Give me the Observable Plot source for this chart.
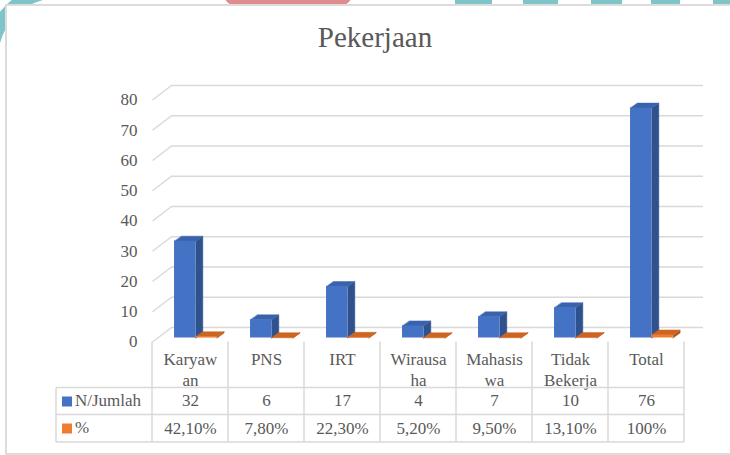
<!DOCTYPE html>
<html><head><meta charset="utf-8">
<script src="https://cdn.jsdelivr.net/npm/d3@7"></script>
<script src="https://cdn.jsdelivr.net/npm/@observablehq/plot@0.6"></script>
<style>
html,body{margin:0;padding:0;background:#fff;}
#stage{position:relative;width:730px;height:455px;overflow:hidden;font-family:"Liberation Serif","Times New Roman",serif;color:#595959;}
#stage svg{position:absolute;left:0;top:0;}
</style></head><body><div id="stage"></div>
<script>
// ---- data ----
const title = "Pekerjaan";
const categories = ["Karyawan","PNS","IRT","Wirausaha","Mahasiswa","Tidak Bekerja","Total"];
const nJumlah = [32,6,17,4,7,10,76];
const persen = [42.1,7.8,22.3,5.2,9.5,13.1,100];
const persenLabels = ["42,10%","7,80%","22,30%","5,20%","9,50%","13,10%","100%"];
const seriesNames = ["N/Jumlah","%"];
const yTicks = [0,10,20,30,40,50,60,70,80];

// ---- layout / style ----
const W = 730, H = 455;
const mL = 152, mR = 46, mT = 99.5, mB = H - 341.5;
const colW = (W - mL - mR) / categories.length;
const pxPerUnit = (H - mB - mT) / 80;
const wallDX = 19 / colW, wallDY = 14.5 / pxPerUnit;
const barDX = 7 / colW, barDY = 5 / pxPerUnit;
const barOff = 0.29, barW = 0.28;
const blue = {front:"#4472c4", side:"#2f528f", top:"#3a63ad"};
const orange = {front:"#ed7d31", side:"#b3561a", top:"#cd6520"};
const grid = "#d9d9d9";
const textColor = "#595959";
const font = '"Liberation Serif","Times New Roman",serif';

const rows = categories.map((c,i)=>({c, i, n:nJumlah[i], p:persen[i]/100}));

// wrap labels to the column width like the spreadsheet table does
const ctx = document.createElement("canvas").getContext("2d");
ctx.font = "17px " + font;
function wrap(s, maxW = 60) {
  const lines = [];
  let cur = "";
  for (const word of s.split(" ")) {
    const cand = cur ? cur + " " + word : word;
    if (ctx.measureText(cand).width <= maxW) { cur = cand; continue; }
    if (cur) { lines.push(cur); cur = ""; }
    let w = word;
    while (ctx.measureText(w).width > maxW) {
      let k = w.length;
      while (k > 1 && ctx.measureText(w.slice(0,k)).width > maxW) k--;
      lines.push(w.slice(0,k)); w = w.slice(k);
    }
    cur = w;
  }
  if (cur) lines.push(cur);
  return lines.join("\n");
}

function faces(key, offset) {
  const side = [], top = [];
  for (const r of rows) {
    const v = r[key], x1 = r.i + offset, x2 = x1 + barW;
    [[x2,0],[x2+barDX,barDY],[x2+barDX,v+barDY],[x2,v]].forEach(([x,y])=>side.push({x,y,z:key+r.i}));
    [[x1,v],[x2,v],[x2+barDX,v+barDY],[x1+barDX,v+barDY]].forEach(([x,y])=>top.push({x,y,z:key+r.i}));
  }
  return {side, top};
}
const bF = faces("n", barOff), oF = faces("p", barOff + barW);

function barMarks(key, offset, f, col) {
  return [
    Plot.line(f.side, {x:"x", y:"y", z:"z", fill:col.side, stroke:col.side, strokeWidth:0.5, curve:"linear-closed", dy:-4}),
    Plot.line(f.top, {x:"x", y:"y", z:"z", fill:col.top, stroke:col.top, strokeWidth:0.5, curve:"linear-closed", dy:-4}),
    Plot.rect(rows, {x1:r=>r.i+offset, x2:r=>r.i+offset+barW, y1:0, y2:r=>r[key], fill:col.front, dy:-4})
  ];
}

const stage = document.getElementById("stage");

// background decoration + chart box
const deco = d3.create("svg").attr("width", W).attr("height", H);
deco.append("path").attr("d","M 46 -8 Q 2 2 -8 46").attr("fill","none").attr("stroke","#7ec4c9").attr("stroke-width",14);
deco.append("rect").attr("x",223).attr("y",-30).attr("width",130).attr("height",36).attr("rx",14).attr("fill","#e08b8f");
[[455,492],[523,558],[591,622],[651,680],[713,736]].forEach(([a,b])=>
  deco.append("rect").attr("x",a).attr("y",-4).attr("width",b-a).attr("height",10).attr("rx",3).attr("fill","#7ec4c9"));
deco.append("rect").attr("x",6).attr("y",5).attr("width",740).attr("height",449)
  .attr("fill","#fff").attr("stroke","#dcdcdc").attr("stroke-width",2);
stage.appendChild(deco.node());

const plot = Plot.plot({
  width: W, height: H,
  marginLeft: mL, marginRight: mR, marginTop: mT, marginBottom: mB,
  style: {background:"transparent", fontFamily: font, fontSize:"17px", color:textColor, overflow:"visible"},
  x: {domain:[0, categories.length], axis:null},
  y: {domain:[0,80], ticks:yTicks, tickSize:0, tickPadding:15, label:null, tickFormat:d=>String(d)},
  marks: [
    Plot.ruleY(yTicks, {y:d=>d+wallDY, x1:wallDX, x2:categories.length+wallDX, stroke:grid, strokeWidth:1.5}),
    Plot.link(yTicks, {x1:0, y1:d=>d, x2:wallDX, y2:d=>d+wallDY, stroke:grid, strokeWidth:1.5}),
    ...barMarks("n", barOff, bF, blue),
    ...barMarks("p", barOff + barW, oF, orange),
    Plot.text(rows, {x:r=>r.i+0.5, y:0, text:r=>wrap(r.c), lineAnchor:"top", lineHeight:21/17, fontSize:17, dy:8.5, fill:textColor}),
    Plot.text(rows, {x:r=>r.i+0.5, y:0, text:r=>String(r.n), lineAnchor:"top", fontSize:17, dy:51.5, fill:textColor}),
    Plot.text(rows, {x:r=>r.i+0.5, y:0, text:r=>persenLabels[r.i], lineAnchor:"top", fontSize:17, dy:79.5, fill:textColor})
  ]
});
stage.appendChild(plot);

// data table grid, legend keys and title
const xs = plot.scale("x").apply;
const y0 = plot.scale("y").apply(0);
const ov = d3.create("svg").attr("width", W).attr("height", H).style("font-family", font);
const tTop = y0, r1 = y0 + 46, r2 = y0 + 73, tBot = y0 + 100.5, tLeft = 56;
const g = ov.append("g").attr("stroke", grid).attr("stroke-width", 1.5);
d3.range(categories.length + 1).forEach(k=>
  g.append("line").attr("x1",xs(k)).attr("x2",xs(k)).attr("y1",tTop).attr("y2",tBot));
g.append("line").attr("x1",tLeft).attr("x2",tLeft).attr("y1",r1).attr("y2",tBot);
[r1, r2, tBot].forEach(y=>g.append("line").attr("x1",tLeft).attr("x2",xs(categories.length)).attr("y1",y).attr("y2",y));
[[blue.front, r1], [orange.front, r2]].forEach(([c, ry], j)=>{
  ov.append("rect").attr("x",62).attr("y",ry+9).attr("width",10).attr("height",10).attr("fill",c);
  ov.append("text").attr("x",75).attr("y",ry+18.5).attr("font-size",17).attr("fill",textColor).text(seriesNames[j]);
});
ov.append("text").attr("x",375).attr("y",47).attr("text-anchor","middle").attr("font-size",29).attr("fill",textColor).text(title);
stage.appendChild(ov.node());
</script>
</body></html>
